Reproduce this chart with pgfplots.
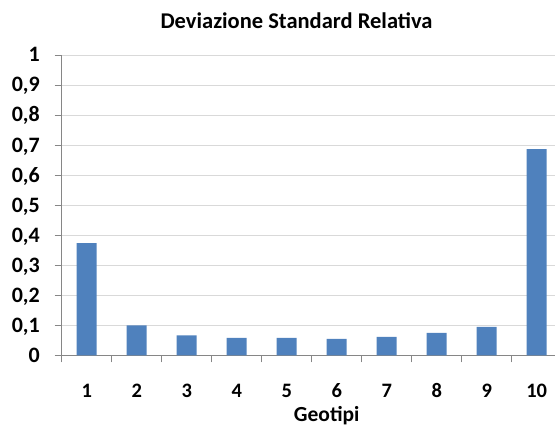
\documentclass[border=0pt]{standalone}
\usepackage{pgfplots}
\pgfplotsset{compat=1.18}
\usepackage{fontspec}
\setmainfont{Carlito}
\definecolor{barblue}{HTML}{4F81BD}
\definecolor{gridgray}{HTML}{D9D9D9}
\definecolor{axisgray}{HTML}{868686}
\begin{document}
\begin{tikzpicture}[x=1pt,y=1pt]
\useasboundingbox (0,0) rectangle (555,427);
\begin{axis}[
  at={(61.7pt,71.5pt)}, anchor=south west,
  scale only axis, width=493.3pt, height=300.5pt,
  xmin=0.5, xmax=10.366, ymin=0, ymax=1,
  axis lines*=left,
  axis line style={axisgray, line width=0.8pt},
  ytick={0,0.1,0.2,0.3,0.4,0.5,0.6,0.7,0.8,0.9,1},
  xtick={1,2,3,4,5,6,7,8,9,10},
  minor xtick={0.5,1.5,2.5,3.5,4.5,5.5,6.5,7.5,8.5,9.5},
  major x tick style={draw=none},
  tick style={axisgray, line width=0.8pt},
  minor tick length=7pt, major tick length=7pt,
  tick align=outside,
  ymajorgrids, grid style={gridgray, line width=0.9pt},
  /pgf/number format/assume math mode=true,
  /pgf/number format/use comma,
  /pgf/number format/fixed,
  /pgf/number format/precision=1,
  tick label style={text=black},
  yticklabel style={font=\fontsize{22}{26}\selectfont\bfseries, anchor=base east, inner sep=0pt, xshift=-14.7pt, yshift=-6.9pt},
  xticklabel style={font=\fontsize{20.5}{24}\selectfont\bfseries, anchor=base, inner sep=0pt, yshift=-35pt},
  ybar, bar width=0.4,
  clip=false,
]
\addplot[fill=barblue, draw=none] coordinates {
  (1,0.374) (2,0.100) (3,0.067) (4,0.059) (5,0.059)
  (6,0.055) (7,0.062) (8,0.075) (9,0.095) (10,0.687)
};
\end{axis}
\node[anchor=base, font=\fontsize{22.5}{27}\selectfont\bfseries] at (296.5,398) {Deviazione Standard Relativa};
\node[anchor=base, font=\fontsize{21.5}{25}\selectfont\bfseries] at (326.7,5.5) {Geotipi};
\end{tikzpicture}
\end{document}
